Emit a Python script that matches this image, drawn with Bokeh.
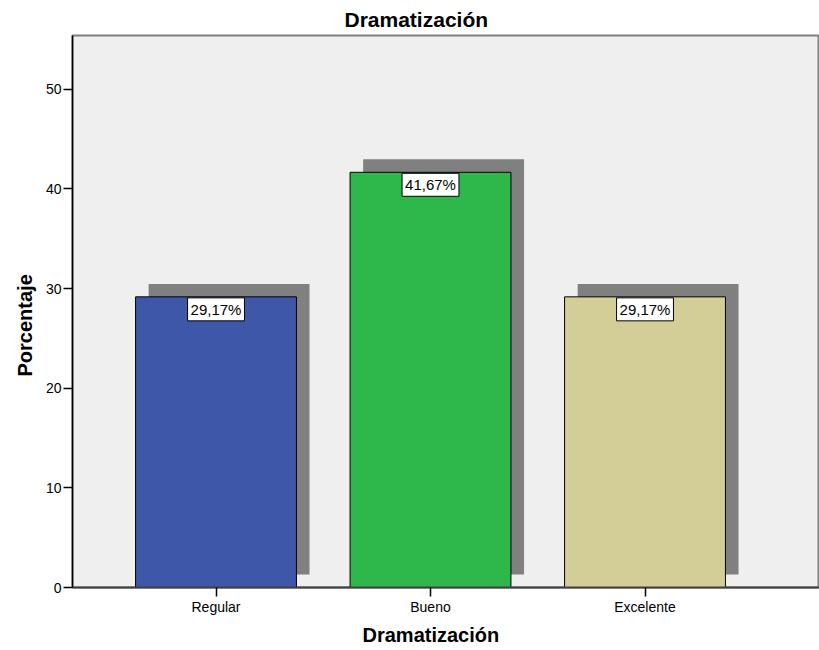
from bokeh.plotting import figure
from bokeh.models import Range1d, ColumnDataSource, Label, Title, FixedTicker
from bokeh.embed import file_html
from bokeh.resources import INLINE
import numpy as np

# ---- data ----
categories = ["Regular", "Bueno", "Excelente"]
percentages = [29.17, 41.67, 29.17]
bar_colors = ["#3E57A9", "#2EB84B", "#D3CE98"]
y_ticks = [0, 10, 20, 30, 40, 50]

FONT = "Liberation Sans"
pos = np.arange(len(categories), dtype=float)
labels = [f"{v:.2f}".replace(".", ",") + "%" for v in percentages]

p = figure(width=819, height=650, output_backend="svg", toolbar_location=None,
           x_range=Range1d(-0.669, 2.8135), y_range=Range1d(0, 55.4),
           min_border_left=72, min_border_right=0, min_border_top=35, min_border_bottom=62,
           background_fill_color="#EFEFEF", border_fill_color="white")
p.outline_line_color = "#7F7F7F"
p.outline_line_width = 2
p.grid.visible = False

# shadow offset (style): shift right and up
sx, sy = 0.061, 1.3
src = ColumnDataSource(dict(x=pos, top=percentages, color=bar_colors,
                            xs=pos + sx, ts=np.array(percentages) + sy,
                            bs=np.full(len(pos), sy)))
p.vbar(x="xs", top="ts", bottom="bs", width=0.75, source=src,
       fill_color="#808080", line_color=None)
p.vbar(x="x", top="top", bottom=0, width=0.75, source=src,
       fill_color="color", line_color="black", line_width=1)

for xi, v, t in zip(pos, percentages, labels):
    p.add_layout(Label(x=xi, y=v, text=t, text_align="center", text_baseline="top",
                       text_font=FONT, text_font_size="15px", text_color="black",
                       background_fill_color="white", border_line_color="black",
                       border_line_width=1, padding=3, y_offset=-1))

# axes
p.xaxis.ticker = FixedTicker(ticks=list(pos))
p.xaxis.major_label_overrides = {float(i): c for i, c in zip(pos, categories)}
p.xaxis.major_label_overrides.update({int(i): c for i, c in zip(pos, categories)})
p.yaxis.ticker = FixedTicker(ticks=y_ticks)
for ax in (p.xaxis[0], p.yaxis[0]):
    ax.minor_tick_line_color = None
    ax.major_tick_in = 0
    ax.major_tick_out = 9
    ax.major_tick_line_color = "black"
    ax.major_tick_line_width = 1.5
    ax.major_label_text_font = FONT
    ax.major_label_text_font_size = "14px"
    ax.major_label_text_color = "black"
    ax.major_label_standoff = 2
p.yaxis.axis_line_color = "black"
p.yaxis.axis_line_width = 1.5
p.xaxis.axis_line_color = "#404040"
p.xaxis.axis_line_width = 2

p.title = Title(text="Dramatización", align="left", offset=272,
                text_font=FONT, text_font_size="21px", text_font_style="bold",
                text_color="black", standoff=9)
xt = Title(text="Dramatización", align="left", offset=290,
           text_font=FONT, text_font_size="20px", text_font_style="bold",
           text_color="black", standoff=9)
p.add_layout(xt, "below")
yt = Title(text="Porcentaje", align="left", offset=211,
           text_font=FONT, text_font_size="20px", text_font_style="bold",
           text_color="black", standoff=14)
p.add_layout(yt, "left")

open("out.html", "w").write(file_html(p, INLINE))
